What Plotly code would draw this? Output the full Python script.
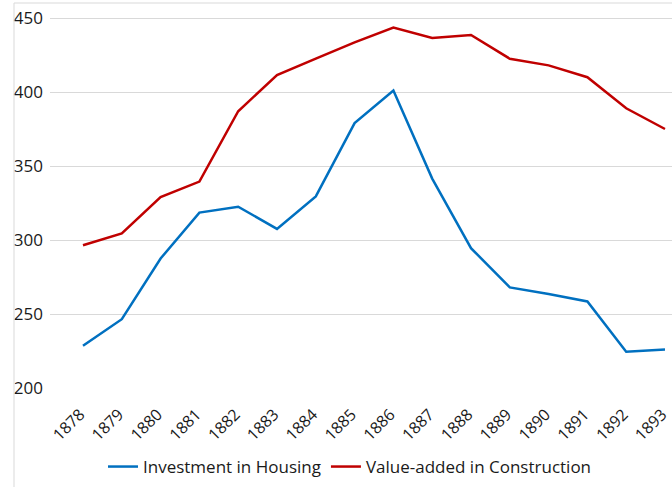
import plotly.graph_objects as go

years = [1878, 1879, 1880, 1881, 1882, 1883, 1884, 1885, 1886, 1887, 1888, 1889, 1890, 1891, 1892, 1893]
housing = [228.5, 246.5, 287.5, 318.5, 322.5, 307.5, 329.5, 379, 401, 341.5, 294.5, 268, 263.5, 258.5, 224.5, 226]
construction = [296.5, 304.5, 329, 339.5, 387, 411.5, 422.5, 433.5, 443.5, 436.5, 438.5, 422.5, 418, 410, 389, 375]
y_ticks = [200, 250, 300, 350, 400, 450]

W, H = 672, 487
top_px = 14                      # plot-area top (px)
L, T = 50, top_px
B = H - 388
R = 0
pw = W - L - R
ph = H - T - B
px_per_val = 74 / 50.0
y_top = 450 + (18 - top_px) / px_per_val
px_per_year = (665 - 83) / 15.0
x0 = years[0] - (83 - L) / px_per_year
x1 = x0 + pw / px_per_year

fig = go.Figure()
fig.add_trace(go.Scatter(x=years, y=housing, mode="lines", name="Investment in Housing",
                         line=dict(color="#0070C0", width=2.5)))
fig.add_trace(go.Scatter(x=years, y=construction, mode="lines", name="Value-added in Construction",
                         line=dict(color="#C00000", width=2.5)))

font_family = "Open Sans, sans-serif"
txt = "#1a1a1a"

fig.update_layout(
    width=W, height=H,
    margin=dict(l=L, r=R, t=T, b=B, autoexpand=False),
    paper_bgcolor="white", plot_bgcolor="white",
    font=dict(family=font_family, size=16, color=txt),
    xaxis=dict(range=[x0, x1], tickmode="array", tickvals=years, ticktext=[str(y) for y in years],
               tickangle=-45, showgrid=False, zeroline=False, showline=False, ticks="",
               automargin=False, ticklabelstandoff=13, ticklabelshift=-3, ticklabeloverflow="allow",
               tickfont=dict(family=font_family, size=16, color=txt)),
    yaxis=dict(range=[200, y_top], tickmode="array", tickvals=y_ticks, showgrid=True,
               gridcolor="#d9d9d9", gridwidth=1,
               zeroline=False, showline=False, ticks="", ticklabelstandoff=6, automargin=False,
               ticklabeloverflow="allow",
               tickfont=dict(family=font_family, size=17, color=txt)),
    legend=dict(orientation="h", x=350 / W, xref="container", xanchor="center",
                y=1 - 467 / H, yref="container", yanchor="middle",
                itemwidth=30, font=dict(family=font_family, size=17, color=txt), tracegroupgap=0),
    showlegend=True,
)

border = "#d9d9d9"
fig.add_shape(type="line", xref="paper", yref="paper",
              x0=(14 - L) / pw, x1=(14 - L) / pw, y0=-(B + 5) / ph, y1=1 + (T - 3) / ph,
              line=dict(color=border, width=1))
fig.add_shape(type="line", xref="paper", yref="paper",
              x0=(14 - L) / pw, x1=1.02, y0=1 + (T - 3) / ph, y1=1 + (T - 3) / ph,
              line=dict(color=border, width=1))

fig.write_html("out.html", config={"displayModeBar": False},
               post_script="document.body.style.margin='0';document.body.style.overflow='hidden';")
